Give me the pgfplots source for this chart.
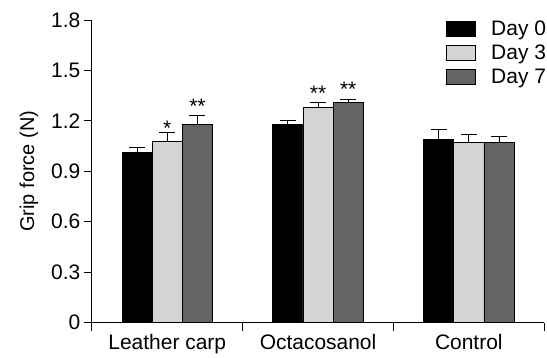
\documentclass[border=0pt]{standalone}
\usepackage{fontspec}
\setmainfont{Liberation Sans}
\usepackage{pgfplots}
\pgfplotsset{compat=1.18}
\definecolor{lightbar}{RGB}{212,212,212}
\definecolor{darkbar}{RGB}{100,100,100}
\begin{document}
\begin{tikzpicture}
\begin{axis}[
  scale only axis, width=453pt, height=303pt,
  xmin=0, xmax=3, ymin=0, ymax=1.8,
  axis x line=bottom, axis y line=left,
  axis line style={-, line width=0.9pt, black},
  xtick={0.5,1.5,2.5},
  xticklabels={Leather carp, Octacosanol, Control},
  minor xtick={0,1,2,3},
  major x tick style={draw=none},
  minor x tick style={line width=0.9pt, black},
  ytick={0,0.3,0.6,0.9,1.2,1.5,1.8},
  y tick style={line width=0.9pt, black},
  tick align=outside, major tick length=8pt, minor tick length=8pt,
  yticklabel style={/pgf/number format/fixed, /pgf/number format/precision=1},
  /pgf/number format/assume math mode=true,
  tick label style={font=\fontsize{21}{24}\selectfont},
  ylabel={Grip force (N)},
  ylabel shift=6pt,
  ylabel style={font=\fontsize{20}{24}\selectfont},
  legend image code/.code={\draw[#1, line width=0.8pt] (0pt,-7.5pt) rectangle (29pt,7.5pt);},
  legend style={at={(1.0066,1)}, anchor=north east, draw=none, fill=none,
    inner sep=0pt, row sep=6pt, font=\fontsize{21}{24}\selectfont,
    nodes={inner sep=1pt, font=\fontsize{21}{24}\selectfont},
    /tikz/every odd column/.append style={column sep=14pt}},
  legend cell align=left,
  error bars/y dir=plus, error bars/y explicit,
  error bars/error bar style={line width=0.9pt, black},
  error bars/error mark options={line width=0.9pt, black, mark size=8pt, rotate=90},
]
\addplot[ybar, bar width=0.2, bar shift=0, fill=black, draw=black, line width=0.8pt]
  coordinates {(0.3,1.01) +- (0,0.03) (1.3,1.18) +- (0,0.02) (2.3,1.09) +- (0,0.06)};
\addlegendentry{Day 0}
\addplot[ybar, bar width=0.2, bar shift=0, fill=lightbar, draw=black, line width=0.8pt]
  coordinates {(0.5,1.08) +- (0,0.05) (1.5,1.28) +- (0,0.03) (2.5,1.07) +- (0,0.05)};
\addlegendentry{Day 3}
\addplot[ybar, bar width=0.2, bar shift=0, fill=darkbar, draw=black, line width=0.8pt]
  coordinates {(0.7,1.18) +- (0,0.05) (1.7,1.31) +- (0,0.02) (2.7,1.07) +- (0,0.04)};
\addlegendentry{Day 7}
\addplot[draw=none, mark=none, forget plot, nodes near coords, point meta=explicit symbolic,
  nodes near coords style={font=\fontsize{21}{24}\selectfont, anchor=base, inner sep=0pt, yshift=2pt}]
  coordinates {(0.5,1.10)[*] (0.7,1.232)[**] (1.5,1.311)[**] (1.7,1.331)[**]};
\end{axis}
\useasboundingbox (-92pt,-35pt) rectangle (455pt,323pt);
\end{tikzpicture}
\end{document}
